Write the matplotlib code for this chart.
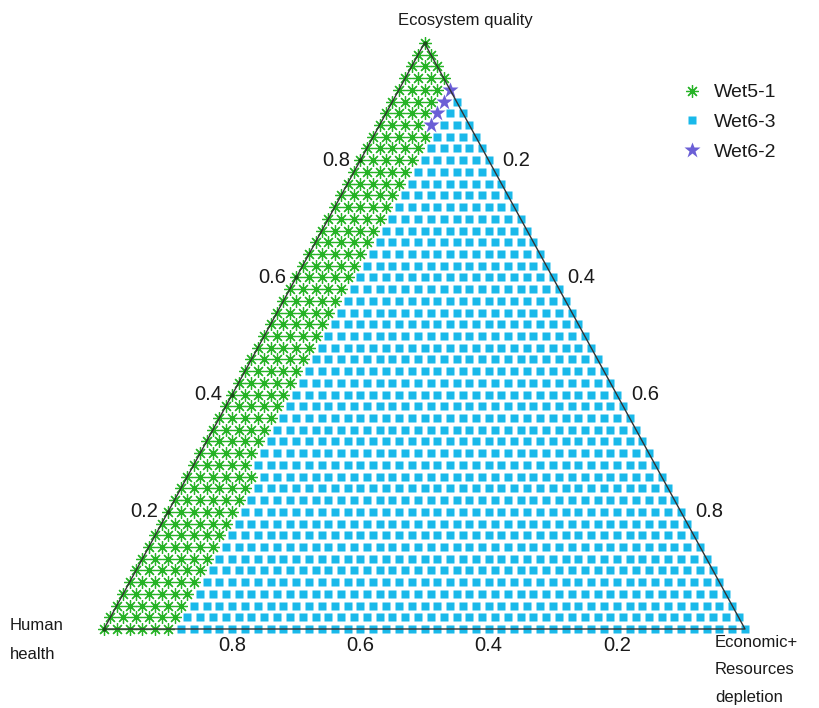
import numpy as np
import matplotlib
matplotlib.use('Agg')
import matplotlib.pyplot as plt

plt.rcParams['font.family'] = ['Liberation Sans', 'DejaVu Sans']

# ternary lattice, step 0.02 in every component
step = 0.02
n_div = 50

# number of Wet5-1 points in each row (row k: ecosystem quality = 0.02*k),
# counted from the Economic+Resources = 0 edge
wet5_1_per_row = [6, 6, 6, 6, 6, 6, 6, 6, 6, 6,
                  6, 6, 6, 6, 5, 5, 5, 5, 5, 5,
                  5, 5, 5, 5, 5, 5, 5, 5, 5, 5,
                  5, 5, 5, 5, 5, 5, 5, 5, 5, 5,
                  5, 5, 5, 4, 4, 4, 4, 4, 3, 2,
                  1]

# Wet6-2 points (ecosystem quality, economic+resources)
wet6_2_eco = [0.86, 0.88, 0.90, 0.92]
wet6_2_res = [0.08, 0.08, 0.08, 0.08]

left_ticks = [0.2, 0.4, 0.6, 0.8]     # ecosystem quality
right_ticks = [0.2, 0.4, 0.6, 0.8]    # economic + resources depletion
bottom_ticks = [0.8, 0.6, 0.4, 0.2]   # human health

c_green = '#26b326'
c_cyan = '#19b9ea'
c_purple = '#6b5fd6'
c_text = '#1a1a1a'


def to_xy(eco, res):
    eco = np.asarray(eco, dtype=float)
    res = np.asarray(res, dtype=float)
    return res + eco / 2.0, eco


# sort lattice points into the three alternatives
g_eco, g_res, s_eco, s_res = [], [], [], []
purple = set(zip(np.round(wet6_2_eco, 2), np.round(wet6_2_res, 2)))
for k in range(n_div + 1):
    eco = round(k * step, 2)
    for j in range(n_div - k + 1):
        res = round(j * step, 2)
        if (eco, res) in purple:
            continue
        if j < wet5_1_per_row[k]:
            g_eco.append(eco)
            g_res.append(res)
        else:
            s_eco.append(eco)
            s_res.append(res)

fig = plt.figure(figsize=(8.19, 7.08), dpi=100)
ax = fig.add_axes([0, 0, 1, 1])
ax.set_xlim(-104 / 641, (819 - 104) / 641)
ax.set_ylim(-79 / 586, (708 - 79) / 586)
ax.axis('off')

x, y = to_xy(s_eco, s_res)
h_sq, = ax.plot(x, y, 's', color=c_cyan, ms=6.3, mec='none', zorder=2, label='Wet6-3')
x, y = to_xy(g_eco, g_res)
h_g, = ax.plot(x, y, ls='none', marker=(8, 2, 0), color=c_green, ms=9, mew=0.9,
               zorder=3, label='Wet5-1')
x, y = to_xy(wet6_2_eco, wet6_2_res)
h_p, = ax.plot(x, y, '*', color=c_purple, ms=12, mec='none', zorder=3, label='Wet6-2')

# triangle frame
ax.plot([0, 1, 0.5, 0], [0, 0, 1, 0], color='#333333', lw=1.0, zorder=4)
ax.plot(np.array([0] + left_ticks + [1]) / 2, [0] + left_ticks + [1], 'o',
        color='#1b4d1b', ms=3, mec='none', zorder=5)

fs = 12
fs_tick = 14.5
for v in left_ticks:
    ax.text(v / 2 - 0.016, v, f'{v:.1f}', ha='right', va='center',
            fontsize=fs_tick, color=c_text)
for v in right_ticks:
    ax.text((1 + v) / 2 + 0.022, 1 - v, f'{v:.1f}', ha='left', va='center',
            fontsize=fs_tick, color=c_text)
for v in bottom_ticks:
    ax.text(1 - v, -0.028, f'{v:.1f}', ha='center', va='center',
            fontsize=fs_tick, color=c_text)

ax.text((465 - 104) / 641, (629 - 20) / 586, 'Ecosystem quality', ha='center',
        va='center', fontsize=fs, color=c_text)
ax.text((10 - 104) / 641, (629 - 640) / 586, 'Human\nhealth', ha='left',
        va='center', fontsize=fs, color=c_text, linespacing=2.1)
ax.text((715 - 104) / 641, (629 - 670) / 586, 'Economic+\nResources\ndepletion',
        ha='left', va='center', fontsize=fs, color=c_text, linespacing=2.05)

leg = ax.legend(handles=[h_g, h_sq, h_p], loc='upper left',
                bbox_to_anchor=(674 / 819, 1 - 76 / 708), frameon=False,
                fontsize=14, handlelength=1.0, handletextpad=0.65,
                labelspacing=0.62, borderaxespad=0)
for t in leg.get_texts():
    t.set_color(c_text)

fig.savefig('out.png', dpi=100)
